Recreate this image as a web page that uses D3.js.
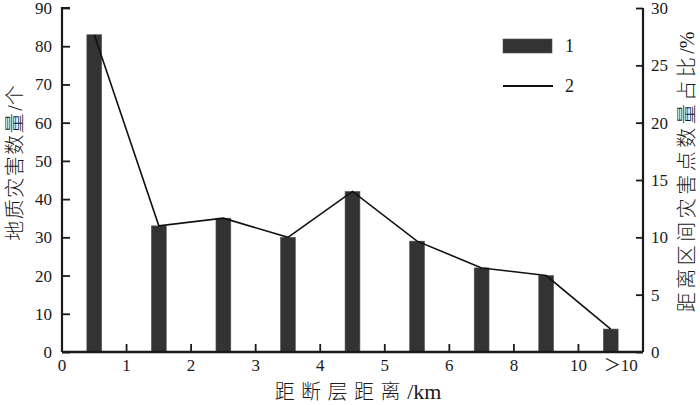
<!DOCTYPE html>
<html><head><meta charset="utf-8">
<script src="https://cdn.jsdelivr.net/npm/d3@7"></script>
<style>body{margin:0;background:#fff}svg{display:block}</style>
</head><body>
<svg id="c" width="700" height="405"></svg>
<script>
const categories = ["0-1","1-2","2-3","3-4","4-5","5-6","6-8","8-10",">10"];
const counts = [83,33,35,30,42,29,22,20,6];
const percents = [27.67,11,11.67,10,14,9.67,7.33,6.67,2];
const boundaryLabels = ["0","1","2","3","4","5","6","8","10"];
const leftTicks = [0,10,20,30,40,50,60,70,80,90];
const rightTicks = [0,5,10,15,20,25,30];

const svg = d3.select("#c");
const L = 62, R = 643, T = 8, B = 352;
const serif = "'Liberation Serif','Times New Roman',serif";
const cjk = "'Noto Sans CJK SC','Liberation Serif',serif";
const ink = "#1a1a1a";

const x = d3.scaleBand().domain(categories).range([L, R]).padding(0);
const yL = d3.scaleLinear().domain([0, 90]).range([B, T]);
const yR = d3.scaleLinear().domain([0, 30]).range([B, T]);
const barW = x.bandwidth() * 0.23;

// bars
svg.append("g").selectAll("rect").data(categories).join("rect")
  .attr("x", (d) => x(d) + x.bandwidth()/2 - barW/2)
  .attr("y", (d,i) => yL(counts[i]))
  .attr("width", barW)
  .attr("height", (d,i) => B - yL(counts[i]))
  .attr("fill", "#333")
  .attr("stroke", "#555").attr("stroke-width", 0.6);

// line
const line = d3.line().x((d,i) => x(categories[i]) + x.bandwidth()/2).y(d => yR(d));
svg.append("path").datum(percents).attr("d", line)
  .attr("fill", "none").attr("stroke", "#111").attr("stroke-width", 1.6);

// axes
const axL = svg.append("g").attr("transform", `translate(${L},0)`)
  .call(d3.axisRight(yL).tickValues(leftTicks).tickSize(8).tickFormat(""));
const axR = svg.append("g").attr("transform", `translate(${R},0)`)
  .call(d3.axisLeft(yR).tickValues(rightTicks).tickSize(7).tickFormat(""));
const boundaries = categories.map(c => x(c)).concat([R]);
const axB = svg.append("g").attr("transform", `translate(0,${B})`);
axB.append("line").attr("x1", L).attr("x2", R).attr("y1", 0).attr("y2", 0);
axB.selectAll("line.t").data(boundaries).join("line").attr("class","t")
  .attr("x1", d => d).attr("x2", d => d).attr("y1", 0).attr("y2", -8);
[axL, axR].forEach(a => { a.select(".domain").attr("stroke", ink).attr("stroke-width", 2.2);
  a.selectAll(".tick line").attr("stroke", ink).attr("stroke-width", 1.8); });
axB.selectAll("line").attr("stroke", ink).attr("stroke-width", 1.8);
axB.select("line").attr("stroke-width", 2.4);
axL.select(".domain").attr("d", `M8,${T}H0V${B}`);
axR.select(".domain").attr("d", `M0,${T}V${B}`);

// tick labels
svg.append("g").selectAll("text").data(leftTicks).join("text")
  .attr("x", L - 10).attr("y", d => yL(d)).attr("dy", "0.35em")
  .attr("text-anchor", "end").attr("font-family", serif).attr("font-size", 17)
  .attr("fill", ink).text(d => d);
svg.append("g").selectAll("text").data(rightTicks).join("text")
  .attr("x", R + 8).attr("y", d => yR(d)).attr("dy", "0.35em")
  .attr("text-anchor", "start").attr("font-family", serif).attr("font-size", 17)
  .attr("fill", ink).text(d => d);
svg.append("g").selectAll("text").data(boundaryLabels).join("text")
  .attr("x", (d,i) => boundaries[i]).attr("y", B + 13.5).attr("dy", "0.35em")
  .attr("text-anchor", "middle").attr("font-family", serif).attr("font-size", 17)
  .attr("fill", ink).text(d => d);
const gt = svg.append("text").attr("x", x(categories[8]) + x.bandwidth()/2 + 10).attr("y", B + 13.5).attr("dy", "0.35em")
  .attr("text-anchor", "middle").attr("font-size", 17).attr("fill", ink);
gt.append("tspan").attr("font-family", cjk).text("＞");
gt.append("tspan").attr("font-family", serif).text("10");

// titles
const xt = svg.append("text").attr("x", 358).attr("y", 392).attr("dy", "0.35em")
  .attr("text-anchor", "middle").attr("font-size", 20).attr("fill", ink);
xt.append("tspan").attr("font-family", cjk).attr("font-weight", 300).attr("letter-spacing", 6.5).text("距断层距离");
xt.append("tspan").attr("font-family", serif).attr("font-size", 22).text("/km");

const lt = svg.append("text").attr("transform", `translate(15,163) rotate(-90)`).attr("dy", "0.35em")
  .attr("text-anchor", "middle").attr("font-size", 20).attr("fill", ink);
lt.append("tspan").attr("font-family", cjk).attr("font-weight", 300).attr("letter-spacing", 1.5).text("地质灾害数量");
lt.append("tspan").attr("font-family", serif).attr("dx", 1).text("/");
lt.append("tspan").attr("font-family", cjk).attr("font-weight", 300).text("个");

const rt = svg.append("text").attr("transform", `translate(687,172) rotate(-90)`).attr("dy", "0.35em")
  .attr("text-anchor", "middle").attr("font-size", 20).attr("fill", ink);
rt.append("tspan").attr("font-family", cjk).attr("font-weight", 300).attr("letter-spacing", 3.5).text("距离区间灾害点数量占比");
rt.append("tspan").attr("font-family", serif).text("/%");

// legend
svg.append("rect").attr("x", 503).attr("y", 39).attr("width", 49).attr("height", 14)
  .attr("fill", "#333").attr("stroke", "#555").attr("stroke-width", 0.6);
svg.append("line").attr("x1", 503).attr("x2", 553).attr("y1", 86).attr("y2", 86)
  .attr("stroke", "#111").attr("stroke-width", 1.8);
svg.append("text").attr("x", 565).attr("y", 46).attr("dy", "0.35em").attr("font-family", serif)
  .attr("font-size", 18).attr("fill", ink).text("1");
svg.append("text").attr("x", 565).attr("y", 86).attr("dy", "0.35em").attr("font-family", serif)
  .attr("font-size", 18).attr("fill", ink).text("2");
</script>
</body></html>
